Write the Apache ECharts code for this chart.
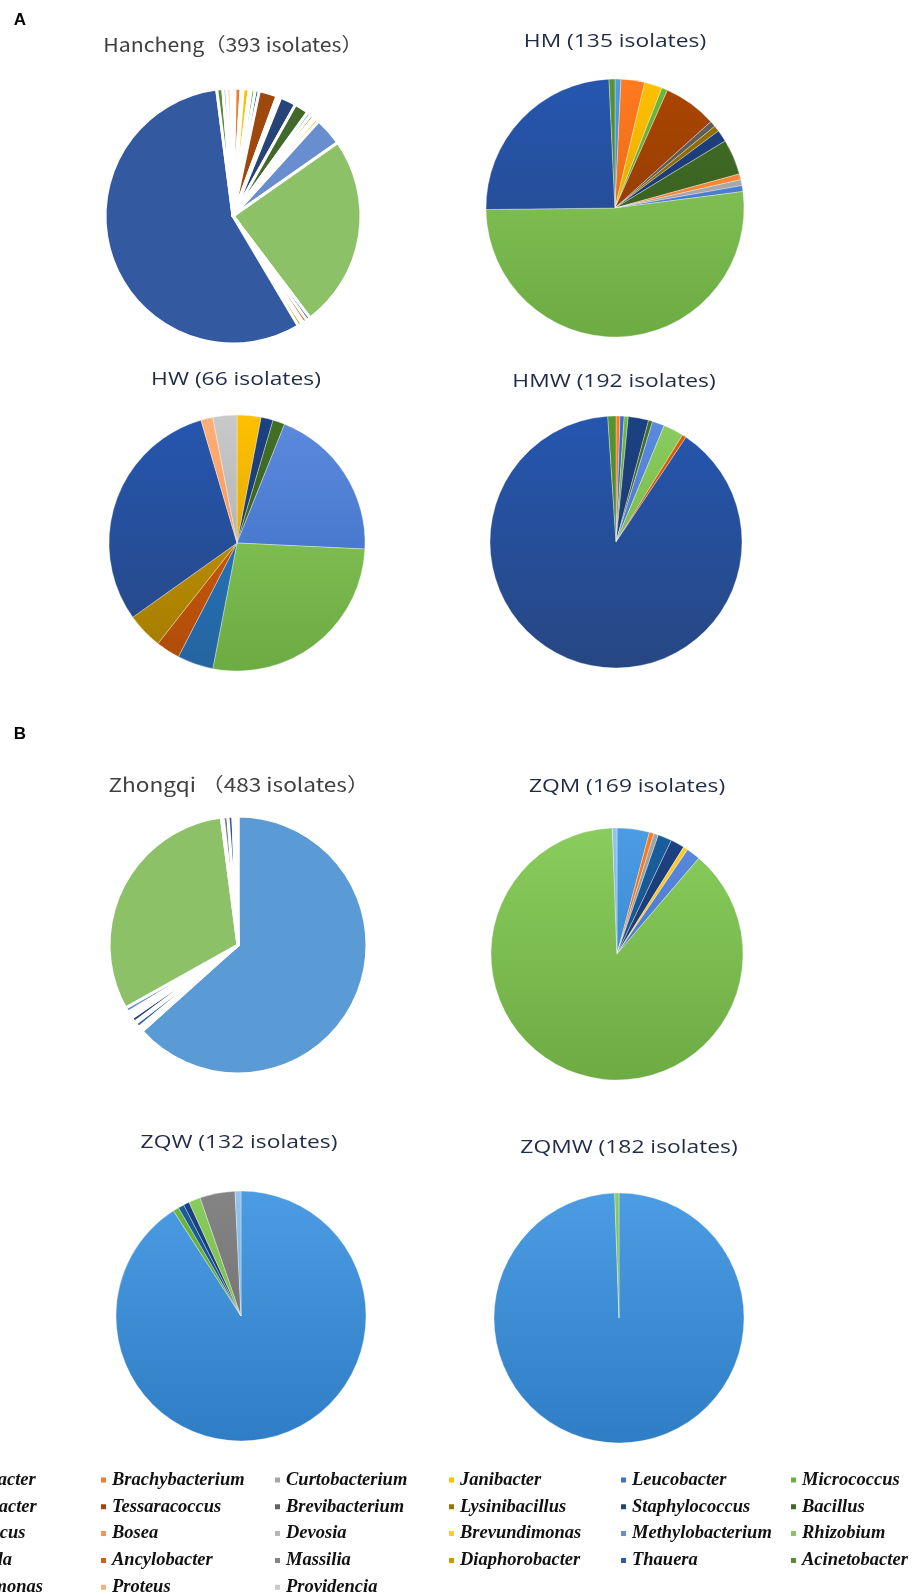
<!DOCTYPE html>
<html>
<head>
<meta charset="utf-8">
<script src="https://cdn.jsdelivr.net/npm/echarts@6/dist/echarts.min.js"></script>
<style>
  html, body { margin: 0; padding: 0; background: #ffffff; }
  #chart { width: 912px; height: 1595px; }
</style>
</head>
<body>
<div id="chart"></div>
<script>
// Genera, in legend order (row by row, six per row)
const genera = [
  'Arthrobacter', 'Brachybacterium', 'Curtobacterium', 'Janibacter', 'Leucobacter', 'Micrococcus',
  'Enterobacter', 'Tessaracoccus', 'Brevibacterium', 'Lysinibacillus', 'Staphylococcus', 'Bacillus',
  'Paracoccus', 'Bosea', 'Devosia', 'Brevundimonas', 'Methylobacterium', 'Rhizobium',
  'Klebsiella', 'Ancylobacter', 'Massilia', 'Diaphorobacter', 'Thauera', 'Acinetobacter',
  'Pseudomonas', 'Proteus', 'Providencia'
];

// Isolate counts per genus (same order as `genera`)
const hancheng = [1, 3, 1, 3, 1, 2, 2, 9, 1, 1, 8, 7, 2, 2, 1, 2, 14, 96, 2, 2, 1, 2, 222, 3, 2, 2, 1];
const hm       = [1, 4, 0, 3, 0, 1, 0, 9, 1, 1, 2, 6, 0, 1, 1, 0, 1, 70, 0, 0, 0, 0, 33, 1, 0, 0, 0];
const hw       = [0, 0, 0, 2, 0, 0, 0, 0, 0, 0, 1, 1, 0, 0, 0, 0, 13, 18, 3, 2, 0, 3, 20, 0, 0, 1, 2];
const hmw      = [0, 1, 0, 0, 1, 1, 0, 0, 0, 0, 5, 1, 0, 0, 0, 0, 3, 5, 0, 1, 0, 0, 172, 2, 0, 0, 0];
const zhongqi  = [306, 1, 1, 0, 1, 0, 3, 0, 1, 0, 3, 0, 1, 1, 1, 1, 3, 150, 1, 0, 3, 0, 3, 0, 1, 1, 1];
const zqm      = [7, 1, 1, 0, 0, 0, 3, 0, 0, 0, 3, 0, 0, 0, 0, 1, 3, 149, 0, 0, 0, 0, 0, 0, 1, 0, 0];
const zqw      = [120, 0, 0, 0, 0, 1, 1, 0, 0, 0, 1, 0, 0, 0, 0, 0, 0, 2, 0, 0, 6, 0, 0, 0, 1, 0, 0];
const zqmw     = [181, 0, 0, 0, 0, 0, 0, 0, 0, 0, 0, 0, 0, 0, 0, 0, 0, 1, 0, 0, 0, 0, 0, 0, 0, 0, 0];

// Panel titles
const titles = [
  'Hancheng（393 isolates）', 'HM (135 isolates)',
  'HW (66 isolates)', 'HMW (192 isolates)',
  'Zhongqi （483 isolates）', 'ZQM (169 isolates)',
  'ZQW (132 isolates)', 'ZQMW (182 isolates)'
];
const panelLetters = ['A', 'B'];

// Colours, one per genus
const palette = [
  '#5B9BD5', '#ED7D31', '#A5A5A5', '#FFC000', '#4472C4', '#70AD47',
  '#255E91', '#9E480E', '#636363', '#997300', '#264478', '#43682B',
  '#7CAFDD', '#F1975A', '#B7B7B7', '#FFCD33', '#698ED0', '#8CC168',
  '#327DC2', '#D26012', '#848484', '#CC9A00', '#335AA1', '#5A8A39',
  '#9DC3E6', '#F4B183', '#C9C9C9'
];

// ---- layout of the eight pies and their headings ----
const panels = [
  { counts: hancheng, cx: 233, cy: 216, r: 128, flat: true,  tx: 233, ty: 45,   cjk: true, sx: 1.12 },
  { counts: hm,       cx: 615, cy: 208, r: 129, flat: false, tx: 615, ty: 42,   sx: 1.2 },
  { counts: hw,       cx: 237, cy: 543, r: 128, flat: false, tx: 236, ty: 380,  sx: 1.2 },
  { counts: hmw,      cx: 616, cy: 542, r: 126, flat: false, tx: 614, ty: 382,  sx: 1.2 },
  { counts: zhongqi,  cx: 238, cy: 945, r: 129, flat: true,  tx: 239, ty: 785,  cjk: true, sx: 1.19 },
  { counts: zqm,      cx: 617, cy: 954, r: 126, flat: false, tx: 627, ty: 787,  sx: 1.2 },
  { counts: zqw,      cx: 241, cy: 1316, r: 125, flat: false, tx: 239, ty: 1143, sx: 1.2 },
  { counts: zqmw,     cx: 619, cy: 1318, r: 125, flat: false, tx: 629, ty: 1148, sx: 1.2 }
];

function hexToHsl(hex) {
  const n = parseInt(hex.slice(1), 16);
  let r = (n >> 16 & 255) / 255, g = (n >> 8 & 255) / 255, b = (n & 255) / 255;
  const mx = Math.max(r, g, b), mn = Math.min(r, g, b);
  let h = 0, s = 0; const l = (mx + mn) / 2;
  if (mx !== mn) {
    const d = mx - mn;
    s = l > 0.5 ? d / (2 - mx - mn) : d / (mx + mn);
    if (mx === r) h = (g - b) / d + (g < b ? 6 : 0);
    else if (mx === g) h = (b - r) / d + 2;
    else h = (r - g) / d + 4;
    h /= 6;
  }
  return [h, s, l];
}
function hslToHex(h, s, l) {
  function f(p, q, t) {
    if (t < 0) t += 1; if (t > 1) t -= 1;
    if (t < 1 / 6) return p + (q - p) * 6 * t;
    if (t < 1 / 2) return q;
    if (t < 2 / 3) return p + (q - p) * (2 / 3 - t) * 6;
    return p;
  }
  let r, g, b;
  if (s === 0) { r = g = b = l; } else {
    const q = l < 0.5 ? l * (1 + s) : l + s - l * s, p = 2 * l - q;
    r = f(p, q, h + 1 / 3); g = f(p, q, h); b = f(p, q, h - 1 / 3);
  }
  const c = v => ('0' + Math.round(v * 255).toString(16)).slice(-2);
  return '#' + c(r) + c(g) + c(b);
}
function tone(hex, ds, dl) {
  const [h, s, l] = hexToHsl(hex);
  return hslToHex(h, Math.min(1, s * ds), Math.max(0, Math.min(1, l * dl)));
}

// shaded fill (light top, darker bottom) for the glossy pies
function sliceColor(base, p) {
  if (p.flat) return base;
  return {
    type: 'linear', global: true,
    x: 0, y: p.cy - p.r, x2: 0, y2: p.cy + p.r,
    colorStops: [
      { offset: 0, color: tone(base, 1.25, 1.0) },
      { offset: 1, color: tone(base, 1.05, 0.8) }
    ]
  };
}

const series = panels.map(p => ({
  type: 'pie',
  center: [p.cx, p.cy],
  radius: [0, p.r],
  startAngle: 90,
  clockwise: true,
  label: { show: false },
  labelLine: { show: false },
  emphasis: { disabled: true },
  silent: true,
  itemStyle: p.flat
    ? { borderColor: '#ffffff', borderWidth: 3 }
    : { borderColor: 'rgba(255,255,255,0.55)', borderWidth: 0.6 },
  data: genera
    .map((g, i) => ({ name: g, value: p.counts[i], itemStyle: { color: sliceColor(palette[i], p) } }))
    .filter(d => d.value > 0)
}));

// legend: six columns, filled row by row (first column runs off the left edge)
const legendX = [-76, 99, 273, 447, 619, 789];
const legends = legendX.map((x, c) => ({
  orient: 'vertical',
  left: x,
  top: 1470,
  width: 170,
  height: 300,
  padding: 0,
  itemWidth: 7,
  itemHeight: 7,
  itemGap: 6.8,
  icon: 'rect',
  selectedMode: false,
  textStyle: {
    fontFamily: '"Liberation Serif", "Times New Roman", serif',
    fontStyle: 'italic',
    fontWeight: 'bold',
    fontSize: 18.5,
    lineHeight: 20,
    color: '#111111'
  },
  data: genera.filter((g, i) => i % 6 === c)
}));

const graphics = panels.map((p, i) => ({
  type: 'text',
  x: p.tx,
  y: p.ty,
  scaleX: p.sx,
  silent: true,
  style: {
    text: titles[i],
    font: p.cjk ? '19px "Noto Sans CJK SC"' : '19px "Open Sans"',
    fill: p.cjk ? '#404040' : '#1f2c47',
    align: 'center', verticalAlign: 'middle',
    textAlign: 'center', textVerticalAlign: 'middle'
  }
})).concat(panelLetters.map((t, i) => ({
  type: 'text',
  x: 20,
  y: i === 0 ? 20 : 734,
  silent: true,
  style: {
    text: t,
    font: 'bold 17px "Liberation Sans", Arial, sans-serif',
    fill: '#000000',
    align: 'center', verticalAlign: 'middle',
    textAlign: 'center', textVerticalAlign: 'middle'
  }
})));

const chart = echarts.init(document.getElementById('chart'), null, { renderer: 'canvas' });
chart.setOption({
  animation: false,
  backgroundColor: '#ffffff',
  legend: legends,
  graphic: graphics,
  series: series
});
</script>
</body>
</html>
